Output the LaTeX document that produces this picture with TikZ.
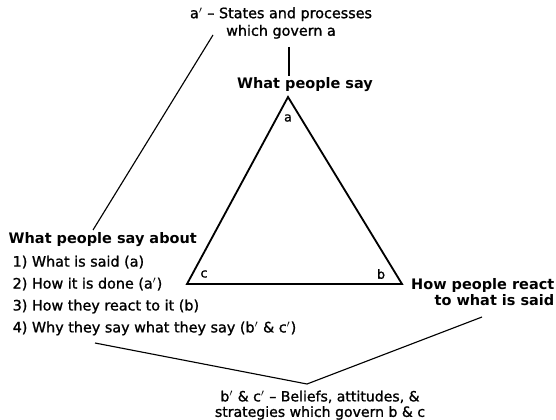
\documentclass[tikz,border=0pt]{standalone}
\usepackage{fontspec}
\setmainfont{DejaVu Sans}
\newfontfamily\medfont[Ligatures=TeX, FakeBold=1.2]{DejaVu Sans}
\usetikzlibrary{positioning}

\begin{document}
\begin{tikzpicture}[x=0.025cm, y=-0.025cm,
    head/.style={font=\fontsize{10.3}{11.5}\selectfont\bfseries, inner sep=1pt},
    txt/.style={font=\medfont\fontsize{10.2}{12}\selectfont, inner sep=1pt},
    corner/.style={font=\medfont\fontsize{9}{10}\selectfont, inner sep=1pt},
    edge/.style={draw, line width=1.3pt, line join=miter},
    link/.style={draw, line width=0.8pt}
]
\useasboundingbox (0,0) rectangle (556,419);

% Triangle corners
\coordinate (A) at (288, 97);
\coordinate (B) at (402, 284);
\coordinate (C) at (187, 284);
\draw[edge] (A) -- (B) -- (C) -- cycle;

\node[corner] (la) at (288, 118) {a};
\node[corner] (lb) at (381, 274) {b};
\node[corner] (lc) at (204, 274) {c};

% Captions
\node[txt, align=center, font=\medfont\fontsize{10.2}{12.5}\selectfont] (aprime) at (281, 23) {a$'$ -- States and processes\\which govern a};
\node[head] (say) at (305, 85) {What people say};
\node[head, anchor=west] (about) at (7, 240) {What people say about};
\node[txt, align=left, anchor=north west, font=\medfont\fontsize{10.2}{15.6}\selectfont] (items) at (11, 254)
    {1) What is said (a)\\2) How it is done (a$'$)\\3) How they react to it (b)\\4) Why they say what they say (b$'$ \& c$'$)};
\node[head, align=right, anchor=north east, font=\fontsize{10.3}{11.2}\selectfont\bfseries] (react) at (556, 277) {How people react\\to what is said};
\node[txt, align=center, anchor=north, font=\medfont\fontsize{10}{11}\selectfont] (bc) at (320, 389) {b$'$ \& c$'$ -- Beliefs, attitudes, \&\\strategies which govern b \& c};

% Connectors
\coordinate (topline) at (289, 47);
\coordinate (diagtop) at (213, 35);
\coordinate (diagend) at (93, 230);
\coordinate (vleft) at (95, 343);
\coordinate (vright) at (482, 317);
\coordinate (vtip) at (307, 384);
\draw[link] (topline) -- (topline |- say.north);
\draw[link] (diagtop) -- (diagend);
\draw[link] (vleft) -- (vtip) -- (vright);

\end{tikzpicture}
\end{document}
